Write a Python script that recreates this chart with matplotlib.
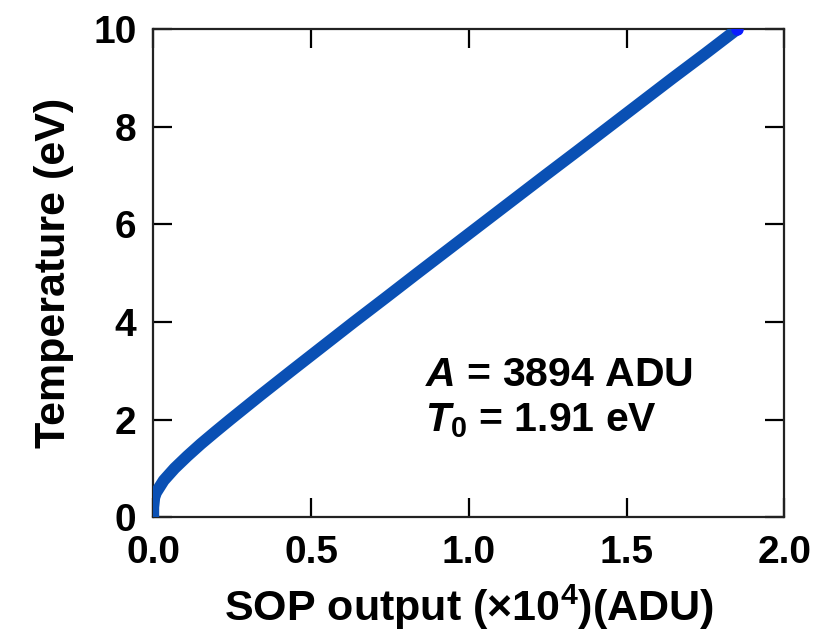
import matplotlib
matplotlib.use("Agg")
import matplotlib.pyplot as plt

# SOP output (x1e4 ADU) vs temperature (eV)
sop = [0.0, 0.0001, 0.0033, 0.0087, 0.0331, 0.0677, 0.108, 0.151, 0.197, 0.244,
       0.340, 0.438, 0.537, 0.636, 0.737, 0.837, 0.938, 1.039, 1.140, 1.241,
       1.343, 1.444, 1.545, 1.646, 1.749, 1.850]
temp = [0.0, 0.2, 0.4, 0.5, 0.75, 1.0, 1.25, 1.5, 1.75, 2.0,
        2.5, 3.0, 3.5, 4.0, 4.5, 5.0, 5.5, 6.0, 6.5, 7.0,
        7.5, 8.0, 8.5, 9.0, 9.5, 10.0]

x_ticks = [0.0, 0.5, 1.0, 1.5, 2.0]
y_ticks = [0, 2, 4, 6, 8, 10]

plt.rcParams['font.family'] = ['Liberation Sans', 'DejaVu Sans']
plt.rcParams['font.weight'] = 'bold'
plt.rcParams['mathtext.fontset'] = 'custom'
plt.rcParams['mathtext.rm'] = 'Liberation Sans'
plt.rcParams['mathtext.it'] = 'Liberation Sans:italic:bold'
plt.rcParams['mathtext.bf'] = 'Liberation Sans:bold'

fig = plt.figure(figsize=(8.24, 6.36), dpi=100)
ax = fig.add_axes([0.186, 0.187, 0.766, 0.767])

ax.plot(sop, temp, color='#0a50b4', lw=8.5, solid_capstyle='round',
        solid_joinstyle='round', zorder=3)
ax.plot(sop[-1:], temp[-1:], 'o', ms=8, color='#0a1cff', zorder=4)

ax.set_xlim(0, 2)
ax.set_ylim(0, 10)
ax.set_xticks(x_ticks)
ax.set_xticklabels([f"{v:.1f}" for v in x_ticks])
ax.set_yticks(y_ticks)
ax.tick_params(direction='in', length=14, width=1.6, top=True, right=True,
               labelsize=28)
ax.tick_params(axis='x', pad=13)
ax.tick_params(axis='y', pad=12)
for lbl in ax.get_xticklabels() + ax.get_yticklabels():
    lbl.set_fontweight('bold')
for sp in ax.spines.values():
    sp.set_linewidth(1.6)
    sp.set_color('#222222')

ax.set_xlabel(r'SOP output $(\times 10^4)$(ADU)', fontsize=31, fontweight='bold', labelpad=8)
ax.set_ylabel('Temperature (eV)', fontsize=31, fontweight='bold', labelpad=14)

ax.text(0.862, 2.91, r'$A$ = 3894 ADU', fontsize=29.5, fontweight='bold', va='center', ha='left')
ax.text(0.862, 1.97, r'$T_\mathbf{0}$ = 1.91 eV', fontsize=29.5, fontweight='bold', va='center', ha='left')

plt.savefig('out.png', dpi=100)
